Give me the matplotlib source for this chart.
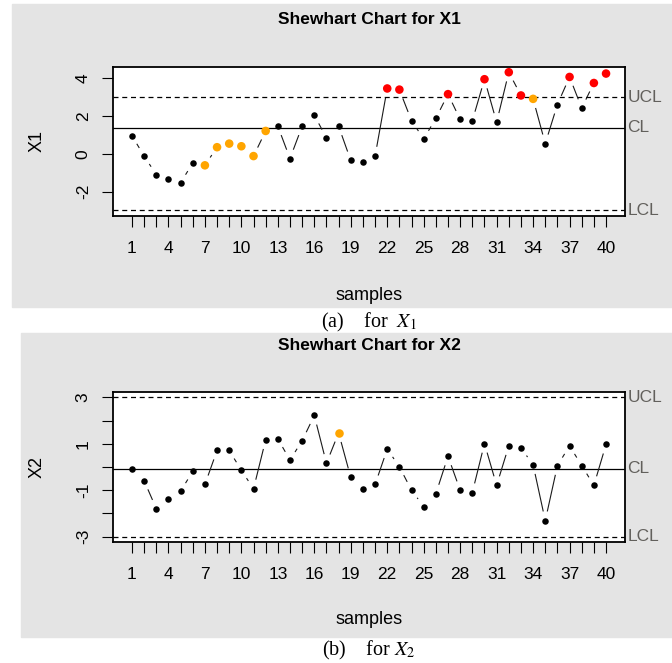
import numpy as np
import matplotlib
matplotlib.use("Agg")
import matplotlib.pyplot as plt
from matplotlib.patches import Rectangle

plt.rcParams["font.family"] = ["Liberation Sans", "DejaVu Sans"]
plt.rcParams["mathtext.fontset"] = "stix"

samples = np.arange(1, 41)

x1 = [0.96, -0.12, -1.10, -1.33, -1.53, -0.49, -0.61, 0.35, 0.54, 0.40,
      -0.12, 1.21, 1.46, -0.25, 1.46, 2.05, 0.84, 1.46, -0.35, -0.42,
      -0.12, 3.46, 3.40, 1.75, 0.79, 1.88, 3.16, 1.82, 1.75, 3.95,
      1.67, 4.32, 3.09, 2.91, 0.54, 2.61, 4.07, 2.42, 3.75, 4.25]
x1_beyond = [22, 23, 27, 30, 32, 33, 37, 39, 40]
x1_runs = [7, 8, 9, 10, 11, 12, 34]
x1_limits = (-3.0, 1.39, 3.0)

x2 = [-0.09, -0.59, -1.79, -1.39, -1.04, -0.19, -0.75, 0.71, 0.71, -0.14,
      -0.94, 1.17, 1.21, 0.30, 1.13, 2.22, 0.16, 1.47, -0.45, -0.94,
      -0.75, 0.77, 0.01, -1.00, -1.70, -1.15, 0.46, -1.00, -1.10, 1.01,
      -0.79, 0.91, 0.82, 0.10, -2.31, 0.06, 0.91, 0.06, -0.79, 0.97]
x2_beyond = []
x2_runs = [18]
x2_limits = (-3.0, -0.08, 3.0)

W, H = 672, 663
BG = "#e4e4e4"
LIMIT_TEXT = "#62605c"


def fx(px):
    return px / W


def fy(py):
    return 1 - py / H


def gapped_line(ax, xs, ys, gap=10):
    # mimic R's type="b": segments stop short of each point
    pts = ax.transData.transform(np.column_stack([xs, ys]))
    inv = ax.transData.inverted()
    for p, q in zip(pts[:-1], pts[1:]):
        d = q - p
        length = np.hypot(*d)
        if length <= 2 * gap:
            continue
        u = d / length
        seg = inv.transform([p + u * gap, q - u * gap])
        ax.plot(seg[:, 0], seg[:, 1], color="#1a1a1a", lw=0.8, zorder=2)


def draw_panel(fig, box, values, beyond, runs, limits, yticks, ylabels,
               name, caption, texts_y):
    top, bottom, bg_left, bg_top, bg_bottom = box
    fig.patches.append(Rectangle((fx(bg_left), fy(bg_bottom)),
                                 fx(W - bg_left), (bg_bottom - bg_top) / H,
                                 transform=fig.transFigure, color=BG,
                                 zorder=-5))
    ax = fig.add_axes([fx(113), fy(bottom), fx(625 - 113), (bottom - top) / H])
    ax.set_facecolor("white")
    values = np.asarray(values)
    lcl, cl, ucl = limits
    lo = min(values.min(), lcl)
    hi = max(values.max(), ucl)
    pad = 0.04 * (hi - lo)
    ax.set_ylim(lo - pad, hi + pad)
    ax.set_xlim(1 - 0.04 * 39, 40 + 0.04 * 39)

    ax.axhline(cl, color="black", lw=0.9, zorder=1)
    ax.axhline(ucl, color="black", lw=0.9, ls=(0, (4, 3)), zorder=1)
    ax.axhline(lcl, color="black", lw=0.9, ls=(0, (4, 3)), zorder=1)

    gapped_line(ax, samples, values)

    colors = []
    for s in samples:
        if s in beyond:
            colors.append("red")
        elif s in runs:
            colors.append("orange")
        else:
            colors.append("black")
    colors = np.array(colors)
    black = colors == "black"
    ax.scatter(samples[black], values[black], s=22, color="black",
               zorder=3, linewidths=0)
    ax.scatter(samples[~black], values[~black], s=38, c=colors[~black],
               zorder=3, linewidths=0)

    ax.set_xticks(samples)
    ax.set_xticklabels([str(s) if (s - 1) % 3 == 0 else "" for s in samples])
    ax.set_yticks(yticks)
    ax.set_yticklabels(ylabels, rotation=90, va="center")
    ax.tick_params(axis="both", direction="out", length=8, width=0.8,
                   labelsize=12.5, color="black")
    ax.tick_params(axis="x", pad=10)
    ax.tick_params(axis="y", pad=8)
    for sp in ax.spines.values():
        sp.set_linewidth(1.3)
        sp.set_color("black")

    trans = ax.get_yaxis_transform()
    for lab, val in (("UCL", ucl), ("CL", cl), ("LCL", lcl)):
        ax.text(1.005, val, lab, transform=trans, ha="left", va="center",
                fontsize=12.5, color=LIMIT_TEXT, clip_on=False)

    title_y, samples_y, caption_y = texts_y
    mid = fx((113 + 625) / 2)
    fig.text(mid, fy(title_y), f"Shewhart Chart for {name}", ha="center",
             va="center", fontsize=12.5, fontweight="bold")
    fig.text(mid, fy(samples_y), "samples", ha="center", va="center",
             fontsize=13)
    fig.text(fx(37), fy((top + bottom) / 2), name, rotation=90, ha="center",
             va="center", fontsize=13)
    fig.text(mid, fy(caption_y), caption, ha="center", va="center",
             fontsize=14.5, family=["Liberation Serif", "DejaVu Serif"])
    return ax


fig = plt.figure(figsize=(W / 100, H / 100), dpi=100)
fig.patch.set_facecolor("white")

draw_panel(fig, (66.7, 216, 12, 4, 306.7), x1, x1_beyond, x1_runs, x1_limits,
           [-2, 0, 2, 4], ["-2", "0", "2", "4"], "X1",
           r"(a)    for  $X_1$", (20, 295, 322))

ticks2 = list(range(-3, 4))
labels2 = [str(t) if t % 2 else "" for t in ticks2]
draw_panel(fig, (391.7, 542.3, 21, 332.7, 636.7), x2, x2_beyond, x2_runs,
           x2_limits, ticks2, labels2, "X2",
           r"(b)    for $X_2$", (346, 620, 650))

fig.savefig("out.png", dpi=100)
